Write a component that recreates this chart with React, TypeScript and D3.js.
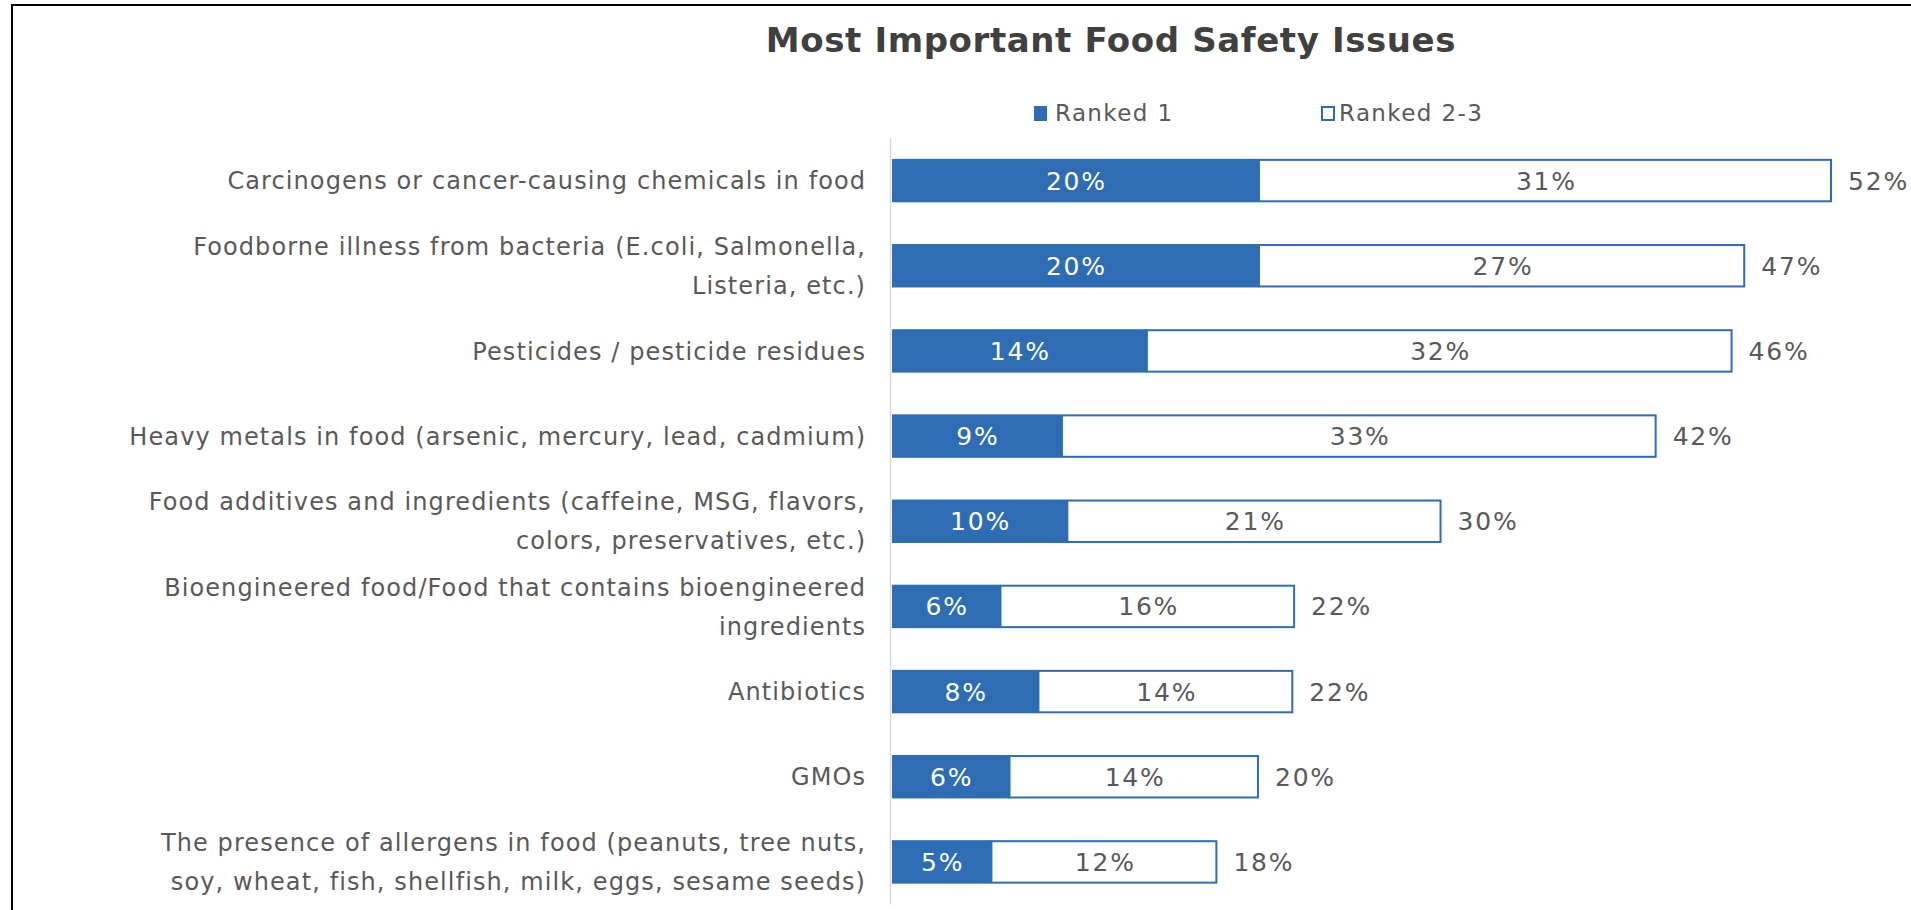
import React from "react";
import * as d3 from "d3";

const categories: string[][] = [
  ["Carcinogens or cancer-causing chemicals in food"],
  ["Foodborne illness from bacteria (E.coli, Salmonella,", "Listeria, etc.)"],
  ["Pesticides / pesticide residues"],
  ["Heavy metals in food (arsenic, mercury, lead, cadmium)"],
  ["Food additives and ingredients (caffeine, MSG, flavors,", "colors, preservatives, etc.)"],
  ["Bioengineered food/Food that contains bioengineered", "ingredients"],
  ["Antibiotics"],
  ["GMOs"],
  ["The presence of allergens in food (peanuts, tree nuts,", "soy, wheat, fish, shellfish, milk, eggs, sesame seeds)"],
];

// measured values (percent)
const ranked1: number[] = [20.3, 20.3, 14.1, 9.4, 9.7, 6.0, 8.1, 6.5, 5.5];
const ranked23: number[] = [31.7, 26.9, 32.4, 32.9, 20.7, 16.3, 14.1, 13.8, 12.5];

// printed labels
const ranked1Labels: string[] = ["20%", "20%", "14%", "9%", "10%", "6%", "8%", "6%", "5%"];
const ranked23Labels: string[] = ["31%", "27%", "32%", "33%", "21%", "16%", "14%", "14%", "12%"];
const totalLabels: string[] = ["52%", "47%", "46%", "42%", "30%", "22%", "22%", "20%", "18%"];

const legendLabels: string[] = ["Ranked 1", "Ranked 2-3"];
const title = "Most Important Food Safety Issues";

const W = 1911;
const H = 910;
const BLUE = "#2E6DB4";
const TEXT = "#595959";
const FONT = "'DejaVu Sans', Verdana, sans-serif";

export default function App() {
  const ids = categories.map((_, i) => String(i));
  const x = d3.scaleLinear().domain([0, 52]).range([892, 1832]);
  const y = d3
    .scaleBand<string>()
    .domain(ids)
    .range([138, 904.5])
    .paddingInner(0.49)
    .paddingOuter(0.245);
  const bw = y.bandwidth();
  const catFs = 24;
  const catLs = 1.1;
  const valFs = 25;
  const valLs = 1.8;
  const lineH = 39;

  return (
    <div style={{ position: "absolute", left: 0, top: 0, width: W, height: H, background: "#fff" }}>
      <svg width={W} height={H} style={{ display: "block", fontFamily: FONT }}>
        <rect x={0} y={0} width={W} height={H} fill="#fff" />
        {/* frame */}
        <line x1={11} x2={W} y1={5} y2={5} stroke="#000" strokeWidth={2} />
        <line x1={12} x2={12} y1={4} y2={H} stroke="#000" strokeWidth={2} />

        {/* title */}
        <text x={1111} y={52} textAnchor="middle" fontSize={34} fontWeight={700} letterSpacing={0.6} fill="#404040">
          {title}
        </text>

        {/* legend */}
        <g fontSize={23} letterSpacing={1.4} fill={TEXT}>
          <rect x={1034} y={106} width={13} height={15} fill={BLUE} />
          <text x={1055} y={121}>
            {legendLabels[0]}
          </text>
          <rect x={1322} y={107} width={12} height={13} fill="#fff" stroke={BLUE} strokeWidth={2} />
          <text x={1339} y={121}>
            {legendLabels[1]}
          </text>
        </g>

        {/* axis line */}
        <line x1={890.5} x2={890.5} y1={138} y2={904.5} stroke="#d9d9d9" strokeWidth={1.5} />

        {ids.map((id, i) => {
          const y0 = y(id)!;
          const cy = y0 + bw / 2;
          const x0 = x(0);
          const x1 = x(ranked1[i]);
          const x2 = x(ranked1[i] + ranked23[i]);
          const lines = categories[i];
          const startY = cy - ((lines.length - 1) * lineH) / 2;
          return (
            <g key={id}>
              <rect x={x1} y={y0 + 1} width={x2 - x1 - 1} height={bw - 2} fill="#fff" stroke={BLUE} strokeWidth={2} />
              <rect x={x0} y={y0} width={x1 - x0} height={bw} fill={BLUE} />
              <g fontSize={valFs} letterSpacing={valLs}>
                <text x={(x0 + x1) / 2 + valLs / 2} y={cy} dy="0.36em" textAnchor="middle" fill="#fff">
                  {ranked1Labels[i]}
                </text>
                <text x={(x1 + x2) / 2 + valLs / 2} y={cy} dy="0.36em" textAnchor="middle" fill={TEXT}>
                  {ranked23Labels[i]}
                </text>
                <text x={x2 + 16} y={cy} dy="0.36em" textAnchor="start" fill={TEXT}>
                  {totalLabels[i]}
                </text>
              </g>
              {lines.map((ln, k) => (
                <text
                  key={k}
                  x={865 + catLs}
                  y={startY + k * lineH}
                  dy="0.36em"
                  textAnchor="end"
                  fontSize={catFs}
                  letterSpacing={catLs}
                  fill={TEXT}
                >
                  {ln}
                </text>
              ))}
            </g>
          );
        })}
      </svg>
    </div>
  );
}
